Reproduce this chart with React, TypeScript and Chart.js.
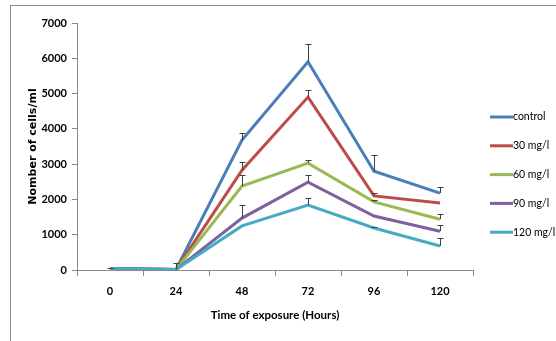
import React, { useEffect, useRef } from "react";
import { Chart, registerables } from "chart.js";

Chart.register(...registerables);

const hours = ["0", "24", "48", "72", "96", "120"];
const seriesNames = ["control", "30 mg/l", "60 mg/l", "90 mg/l", "120 mg/l"];
const seriesColors = ["#4A7EBB", "#BE4B48", "#98B954", "#7D60A0", "#46AAC5"];

const control = [45, 15, 3680, 5900, 2800, 2180];
const mg30 = [35, 12, 2830, 4900, 2100, 1900];
const mg60 = [35, 12, 2380, 3030, 1930, 1440];
const mg90 = [35, 12, 1470, 2490, 1530, 1100];
const mg120 = [35, 12, 1250, 1840, 1190, 680];

const controlErr = [25, 190, 200, 500, 460, 170];
const mg30Err = [0, 0, 230, 200, 80, 0];
const mg60Err = [0, 0, 320, 100, 60, 160];
const mg90Err = [0, 0, 370, 210, 0, 170];
const mg120Err = [0, 0, 0, 200, 30, 220];

const yTickValues = [0, 1000, 2000, 3000, 4000, 5000, 6000, 7000];

const seriesValues = [control, mg30, mg60, mg90, mg120];
const seriesErrors = [controlErr, mg30Err, mg60Err, mg90Err, mg120Err];

const FONT = "Lato, 'Liberation Sans', sans-serif";
const YTITLE_FONT = "'DejaVu Sans', sans-serif";

const errorBarPlugin = {
  id: "errorBars",
  afterDatasetsDraw(chart: any) {
    const ctx = chart.ctx;
    const yScale = chart.scales.y;
    ctx.save();
    ctx.strokeStyle = "#404040";
    ctx.lineWidth = 1;
    chart.data.datasets.forEach((ds: any, i: number) => {
      const meta = chart.getDatasetMeta(i);
      const errs = seriesErrors[i];
      meta.data.forEach((pt: any, j: number) => {
        const e = errs[j];
        if (!e) return;
        const v = ds.data[j];
        const x = Math.round(pt.x) + 0.5;
        const y0 = yScale.getPixelForValue(v);
        const y1 = Math.round(yScale.getPixelForValue(v + e)) + 0.5;
        ctx.beginPath();
        ctx.moveTo(x, y0);
        ctx.lineTo(x, y1);
        ctx.moveTo(x - 3, y1);
        ctx.lineTo(x + 3, y1);
        ctx.stroke();
      });
    });
    ctx.restore();
  },
};

const legendPlugin = {
  id: "customLegend",
  afterDraw(chart: any) {
    const ctx = chart.ctx;
    ctx.save();
    const x0 = 490;
    const startY = 117;
    const gap = 28.8;
    ctx.font = `10.5px ${FONT}`;
    ctx.textBaseline = "middle";
    ctx.textAlign = "left";
    chart.data.datasets.forEach((ds: any, i: number) => {
      const y = startY + i * gap;
      ctx.strokeStyle = ds.borderColor;
      ctx.lineWidth = 3;
      ctx.beginPath();
      ctx.moveTo(x0, y);
      ctx.lineTo(x0 + 23, y);
      ctx.stroke();
      ctx.fillStyle = "#000";
      ctx.fillText(ds.label, x0 + 23, y);
    });
    ctx.restore();
  },
};

export default function App() {
  const ref = useRef<HTMLCanvasElement>(null);
  useEffect(() => {
    if (!ref.current) return;
    const chart = new Chart(ref.current, {
      type: "line",
      data: {
        labels: hours,
        datasets: seriesNames.map((name, i) => ({
          label: name,
          data: seriesValues[i],
          borderColor: seriesColors[i],
          backgroundColor: seriesColors[i],
          borderWidth: 3,
          pointRadius: 0,
          tension: 0,
          order: seriesNames.length - i,
        })),
      },
      options: {
        responsive: false,
        animation: false,
        devicePixelRatio: 1,
        layout: { padding: { top: 23, right: 83, left: 0, bottom: 0 } },
        plugins: { legend: { display: false }, tooltip: { enabled: false } },
        scales: {
          x: {
            type: "category",
            offset: true,
            grid: {
              offset: true,
              drawOnChartArea: false,
              drawTicks: true,
              tickLength: 6,
              color: "#888",
            },
            border: { color: "#888", width: 1 },
            ticks: { color: "#000", font: { family: FONT, size: 11, weight: "bold" }, padding: 9 },
            title: {
              display: true,
              text: "Time of exposure (Hours)",
              color: "#000",
              font: { family: FONT, size: 11.5, weight: "bold" },
              padding: { top: 0, bottom: 19 },
            },
            afterFit: (s: any) => {
              s.height = 71;
            },
          },
          y: {
            min: 0,
            max: 7000,
            afterBuildTicks: (s: any) => {
              s.ticks = yTickValues.map((v) => ({ value: v }));
            },
            grid: { drawOnChartArea: false, drawTicks: true, tickLength: 5, color: "#888" },
            border: { color: "#888", width: 1 },
            ticks: {
              color: "#000",
              font: { family: FONT, size: 11, weight: "bold" },
              padding: 5,
              callback: (v: any) => String(v),
            },
            title: {
              display: true,
              text: "Nomber of cells/ml",
              color: "#000",
              font: { family: YTITLE_FONT, size: 11, weight: "bold" },
              padding: { top: 27, bottom: 0 },
            },
            afterFit: (s: any) => {
              s.width = 77;
            },
          },
        },
      },
      plugins: [errorBarPlugin, legendPlugin],
    });
    return () => chart.destroy();
  }, []);
  return (
    <div style={{ position: "fixed", left: 0, top: 0, width: 556, height: 341, background: "#fff" }}>
      <div
        style={{
          position: "absolute",
          left: 10,
          top: 5,
          width: 546,
          height: 336,
          borderTop: "1px solid #8c8c8c",
          borderLeft: "1px solid #8c8c8c",
          boxSizing: "border-box",
        }}
      />
      <canvas ref={ref} width={556} height={341} style={{ position: "absolute", left: 0, top: 0 }} />
    </div>
  );
}
